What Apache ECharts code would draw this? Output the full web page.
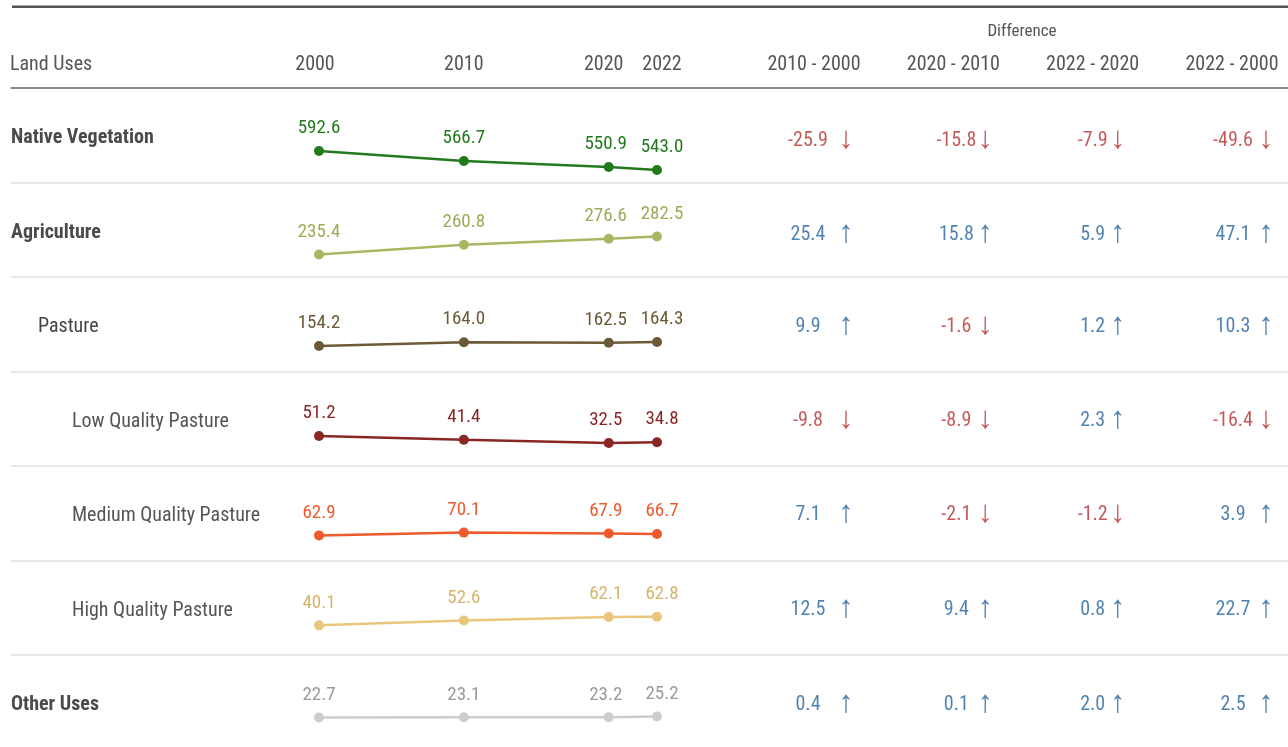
<!DOCTYPE html>
<html>
<head>
<meta charset="utf-8">
<script src="https://cdn.jsdelivr.net/npm/echarts@6/dist/echarts.min.js"></script>
<style>
  html, body { margin: 0; padding: 0; background: #fff; }
  #main { width: 1288px; height: 747px; }
</style>
</head>
<body>
<div id="main"></div>
<script>
// data
var years = [2000, 2010, 2020, 2022];
var yearColumns = ['2000', '', '', '2010', '', '', '2020', '2022'];
var landUses = ['Native Vegetation', 'Agriculture', 'Pasture', 'Low Quality Pasture',
  'Medium Quality Pasture', 'High Quality Pasture', 'Other Uses'];
var nativeVegetation = [592.6, 566.7, 550.9, 543.0];
var agriculture = [235.4, 260.8, 276.6, 282.5];
var pasture = [154.2, 164.0, 162.5, 164.3];
var lowQualityPasture = [51.2, 41.4, 32.5, 34.8];
var mediumQualityPasture = [62.9, 70.1, 67.9, 66.7];
var highQualityPasture = [40.1, 52.6, 62.1, 62.8];
var otherUses = [22.7, 23.1, 23.2, 25.2];

var diffLabels = ['2010 - 2000', '2020 - 2010', '2022 - 2020', '2022 - 2000'];
var diff2010_2000 = [-25.9, 25.4, 9.9, -9.8, 7.1, 12.5, 0.4];
var diff2020_2010 = [-15.8, 15.8, -1.6, -8.9, -2.1, 9.4, 0.1];
var diff2022_2020 = [-7.9, 5.9, 1.2, 2.3, -1.2, 0.8, 2.0];
var diff2022_2000 = [-49.6, 47.1, 10.3, -16.4, 3.9, 22.7, 2.5];

// styles / layout
var rowSeries = [nativeVegetation, agriculture, pasture, lowQualityPasture,
  mediumQualityPasture, highQualityPasture, otherUses];
var diffCols = [diff2010_2000, diff2020_2010, diff2022_2020, diff2022_2000];
var rowLevel = [0, 0, 1, 2, 2, 2, 0];
var lineColors = ['#227a1c', '#a6b962', '#6b5a35', '#8a2624', '#ee5a2c', '#eac67c', '#cdcdcd'];
var labelColors = ['#227a1c', '#9aae58', '#6b5a35', '#8a2624', '#ee5a2c', '#d7b46c', '#9a9a9a'];
var rowShift = [7.5, -2, 2, 3, 3, -4.5, -3];
var labelShift = [0, 0, -3, 5];   // small nudges of value labels per year
var RED = '#b62f2f', BLUE = '#24649f', TEXT = '#555';
var FONT = '"Roboto Condensed", "Open Sans", sans-serif';

var TOP = 88, ROW_H = 94.5, PX_PER_UNIT = 0.383;
var LINE_LEFT = 319, LINE_W = 338;
var DIFF_LEFT = 814, DIFF_W = 418;
var dxValue = [-6, 3, 0, 1];
var dxArrow = [32, 32, 25, 34];
var dyDiff = [6, 5, 3, 2, 2, 2, 3];

var chart = echarts.init(document.getElementById('main'));

var grids = [], xAxes = [], yAxes = [], series = [];

// table grid: row labels and separators
grids.push({ left: 11, right: 0, top: TOP, height: ROW_H * landUses.length, outerBoundsMode: 'none' });
xAxes.push({
  gridIndex: 0, type: 'value', position: 'top', min: 0, max: 1,
  axisLine: { show: true, lineStyle: { color: '#6a6a6a', width: 1.5 } },
  axisTick: { show: false }, axisLabel: { show: false }, splitLine: { show: false }, z: 5
});
yAxes.push({
  gridIndex: 0, type: 'category', data: landUses, inverse: true,
  axisLine: { show: false }, axisTick: { show: false },
  splitLine: { show: true, lineStyle: { color: '#e8e8e8', width: 2 } },
  axisLabel: {
    inside: true, margin: 0,
    formatter: function (v, i) { return '{l' + rowLevel[i] + '|' + v + '}'; },
    rich: {
      l0: { fontFamily: FONT, fontSize: 20, fontWeight: 'bold', color: '#4a4a4a', padding: [6, 0, 0, 0] },
      l1: { fontFamily: FONT, fontSize: 20, color: '#444', padding: [6, 0, 0, 27] },
      l2: { fontFamily: FONT, fontSize: 20, color: TEXT, padding: [6, 0, 0, 61] }
    }
  }
});

// one small line chart per row
rowSeries.forEach(function (vals, i) {
  var gi = grids.length;
  var lo = Math.min.apply(null, vals), hi = Math.max.apply(null, vals);
  var mid = (lo + hi) / 2;
  var yMax = mid + (65 + rowShift[i]) / PX_PER_UNIT;
  var yMin = yMax - ROW_H / PX_PER_UNIT;
  grids.push({ left: LINE_LEFT, width: LINE_W, top: TOP + i * ROW_H, height: ROW_H, outerBoundsMode: 'none' });
  xAxes.push({
    gridIndex: gi, type: 'category', data: yearColumns, boundaryGap: false,
    position: 'top', axisLine: { show: false }, axisTick: { show: false },
    splitLine: { show: false },
    axisLabel: {
      show: i === 0, interval: 0, margin: 13,
      formatter: function (v) {
        if (!v) return '';
        var k = years.indexOf(+v);
        return '{y' + k + '|' + v + '}';
      },
      rich: {
        y0: { fontFamily: FONT, fontSize: 20, color: TEXT, padding: [0, 8, 0, 0] },
        y1: { fontFamily: FONT, fontSize: 20, color: TEXT },
        y2: { fontFamily: FONT, fontSize: 20, color: TEXT, padding: [0, 10, 0, 0] },
        y3: { fontFamily: FONT, fontSize: 20, color: TEXT, padding: [0, 0, 0, 10] }
      }
    }
  });
  yAxes.push({ gridIndex: gi, type: 'value', min: yMin, max: yMax, show: false });
  var data = yearColumns.map(function () { return null; });
  years.forEach(function (y, j) {
    data[yearColumns.indexOf(String(y))] = { value: vals[j], label: { offset: [labelShift[j], 0] } };
  });
  series.push({
    type: 'line', name: landUses[i], xAxisIndex: gi, yAxisIndex: gi,
    data: data, connectNulls: true, symbol: 'circle', symbolSize: 10,
    lineStyle: { color: lineColors[i], width: 2.5 },
    itemStyle: { color: lineColors[i] },
    label: {
      show: true, position: 'top', distance: 8,
      fontFamily: FONT, fontSize: 19, color: labelColors[i],
      formatter: function (p) { return p.value == null ? '' : p.value.toFixed(1); }
    },
    animation: false
  });
});

// difference table
var dgi = grids.length;
grids.push({ left: DIFF_LEFT, width: DIFF_W, top: TOP, height: ROW_H * landUses.length, outerBoundsMode: 'none' });
xAxes.push({
  gridIndex: dgi, type: 'value', min: 0, max: diffLabels.length - 1, interval: 1, position: 'top',
  axisLine: { show: false }, axisTick: { show: false }, splitLine: { show: false },
  axisLabel: {
    margin: 13, fontFamily: FONT, fontSize: 20, color: TEXT,
    formatter: function (v) { return diffLabels[v] || ''; }
  }
});
yAxes.push({ gridIndex: dgi, type: 'category', data: landUses, inverse: true, show: false });

var valueCells = [], arrowCells = [];
diffCols.forEach(function (col, c) {
  col.forEach(function (v, r) {
    var color = v < 0 ? RED : BLUE;
    valueCells.push({ value: [c, r, v], label: { color: color, offset: [dxValue[c], dyDiff[r]] } });
    arrowCells.push({ value: [c, r, v], label: { color: color, offset: [dxArrow[c], dyDiff[r] - 1] } });
  });
});
series.push({
  type: 'scatter', xAxisIndex: dgi, yAxisIndex: dgi, symbolSize: 0, data: valueCells,
  label: {
    show: true, position: 'inside', fontFamily: FONT, fontSize: 20,
    formatter: function (p) { return p.value[2].toFixed(1); }
  },
  animation: false
});
series.push({
  type: 'scatter', xAxisIndex: dgi, yAxisIndex: dgi, symbolSize: 0, data: arrowCells,
  label: {
    show: true, position: 'inside', fontFamily: FONT, fontSize: 31, fontWeight: 300,
    formatter: function (p) { return p.value[2] < 0 ? '\u2193' : '\u2191'; }
  },
  animation: false
});

chart.setOption({
  backgroundColor: '#fff',
  animation: false,
  grid: grids,
  xAxis: xAxes,
  yAxis: yAxes,
  series: series,
  graphic: [
    { type: 'rect', shape: { x: 12, y: 5.5, width: 1276, height: 2.5 }, style: { fill: '#555' } },
    { type: 'text', style: { x: 10, y: 65, text: 'Land Uses', font: '20px ' + FONT, fill: TEXT, verticalAlign: 'middle' } },
    { type: 'text', style: { x: 1022, y: 32, text: 'Difference', font: '17px ' + FONT, fill: TEXT, align: 'center', verticalAlign: 'middle' } }
  ]
});
</script>
</body>
</html>
